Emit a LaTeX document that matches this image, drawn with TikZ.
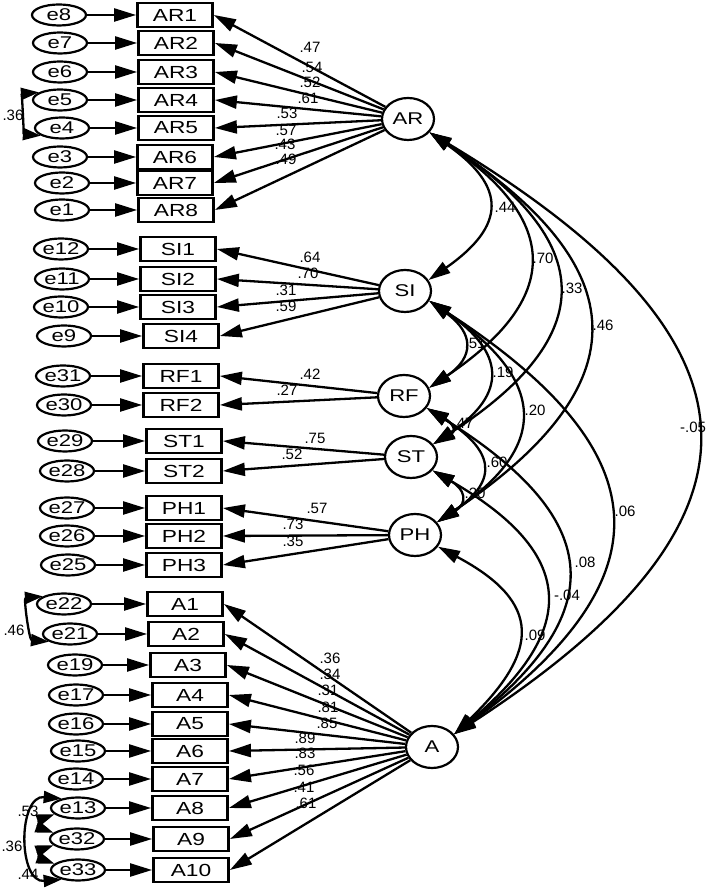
\documentclass[tikz,border=0pt]{standalone}
\usepackage{fontspec}
\setmainfont{Liberation Sans}
\newfontfamily\amosfont[FakeStretch=1.3]{Liberation Sans}
\usetikzlibrary{shapes.geometric,arrows.meta}

\tikzset{
  >={Triangle[length=22pt,width=13pt]},
  obs/.style={draw,line width=2.8pt,minimum width=75pt,minimum height=24pt,inner sep=0pt,font=\fontsize{17.5pt}{19pt}\amosfont},
  err/.style={ellipse,draw,line width=2.2pt,minimum width=54pt,minimum height=21pt,inner sep=0pt,font=\fontsize{17pt}{19pt}\amosfont},
  lat/.style={ellipse,draw,line width=2.2pt,minimum width=52pt,minimum height=42pt,inner sep=0pt,font=\fontsize{17pt}{19pt}\amosfont},
  coef/.style={inner sep=0pt,font=\fontsize{15pt}{16pt}\selectfont},
  res/.style={->,line width=2.3pt},
  load/.style={->,line width=2.3pt},
  cov/.style={<->,line width=2.3pt},
  covs/.style={{Triangle[length=18pt,width=12pt]}-{Triangle[length=18pt,width=12pt]},line width=2.3pt},
}

\begin{document}
\begin{tikzpicture}[x=1pt,y=1pt]
\useasboundingbox (0, 0) rectangle (709, 891);

% latent factors
\node (AR) at (408, 772) [lat] {AR};
\node (SI) at (405, 600) [lat] {SI};
\node (RF) at (404, 495) [lat] {RF};
\node (ST) at (411, 434) [lat] {ST};
\node (PH) at (415, 356) [lat] {PH};
\node (A) at (432, 144) [lat] {A};

% indicators
\node (AR1) at (175, 876) [obs] {AR1};
\node (AR2) at (176, 848) [obs] {AR2};
\node (AR3) at (176, 819) [obs] {AR3};
\node (AR4) at (176, 791) [obs] {AR4};
\node (AR5) at (176, 763) [obs] {AR5};
\node (AR6) at (175, 734) [obs] {AR6};
\node (AR7) at (175, 708) [obs] {AR7};
\node (AR8) at (176, 681) [obs] {AR8};
\node (SI1) at (178, 642) [obs] {SI1};
\node (SI2) at (178, 612) [obs] {SI2};
\node (SI3) at (178, 584) [obs] {SI3};
\node (SI4) at (181, 555) [obs] {SI4};
\node (RF1) at (181, 515) [obs] {RF1};
\node (RF2) at (181, 486) [obs] {RF2};
\node (ST1) at (184, 450) [obs] {ST1};
\node (ST2) at (184, 420) [obs] {ST2};
\node (PH1) at (184, 383) [obs] {PH1};
\node (PH2) at (184, 355) [obs] {PH2};
\node (PH3) at (184, 326) [obs] {PH3};
\node (A1) at (185, 287) [obs] {A1};
\node (A2) at (186, 257) [obs] {A2};
\node (A3) at (188, 226) [obs] {A3};
\node (A4) at (190, 196) [obs] {A4};
\node (A5) at (190, 167) [obs] {A5};
\node (A6) at (190, 140) [obs] {A6};
\node (A7) at (190, 112) [obs] {A7};
\node (A8) at (190, 83) [obs] {A8};
\node (A9) at (191, 52) [obs] {A9};
\node (A10) at (191, 21) [obs] {A10};

% error terms
\node (e8) at (59, 876) [err] {e8};
\node (e7) at (60, 848) [err] {e7};
\node (e6) at (60, 819) [err] {e6};
\node (e5) at (60, 791) [err] {e5};
\node (e4) at (62, 763) [err] {e4};
\node (e3) at (60, 734) [err] {e3};
\node (e2) at (62, 708) [err] {e2};
\node (e1) at (62, 681) [err] {e1};
\node (e12) at (61, 642) [err] {e12};
\node (e11) at (62, 612) [err] {e11};
\node (e10) at (61, 584) [err] {e10};
\node (e9) at (64, 555) [err] {e9};
\node (e31) at (63, 515) [err] {e31};
\node (e30) at (64, 486) [err] {e30};
\node (e29) at (65, 450) [err] {e29};
\node (e28) at (67, 420) [err] {e28};
\node (e27) at (67, 383) [err] {e27};
\node (e26) at (67, 355) [err] {e26};
\node (e25) at (68, 326) [err] {e25};
\node (e22) at (64, 287) [err] {e22};
\node (e21) at (70, 257) [err] {e21};
\node (e19) at (75, 226) [err] {e19};
\node (e17) at (76, 196) [err] {e17};
\node (e16) at (76, 167) [err] {e16};
\node (e15) at (78, 140) [err] {e15};
\node (e14) at (76, 112) [err] {e14};
\node (e13) at (78, 83) [err] {e13};
\node (e32) at (77, 52) [err] {e32};
\node (e33) at (78, 21) [err] {e33};

\draw [res] (e8) -- (AR1.west);
\draw [res] (e7) -- (AR2.west);
\draw [res] (e6) -- (AR3.west);
\draw [res] (e5) -- (AR4.west);
\draw [res] (e4) -- (AR5.west);
\draw [res] (e3) -- (AR6.west);
\draw [res] (e2) -- (AR7.west);
\draw [res] (e1) -- (AR8.west);
\draw [res] (e12) -- (SI1.west);
\draw [res] (e11) -- (SI2.west);
\draw [res] (e10) -- (SI3.west);
\draw [res] (e9) -- (SI4.west);
\draw [res] (e31) -- (RF1.west);
\draw [res] (e30) -- (RF2.west);
\draw [res] (e29) -- (ST1.west);
\draw [res] (e28) -- (ST2.west);
\draw [res] (e27) -- (PH1.west);
\draw [res] (e26) -- (PH2.west);
\draw [res] (e25) -- (PH3.west);
\draw [res] (e22) -- (A1.west);
\draw [res] (e21) -- (A2.west);
\draw [res] (e19) -- (A3.west);
\draw [res] (e17) -- (A4.west);
\draw [res] (e16) -- (A5.west);
\draw [res] (e15) -- (A6.west);
\draw [res] (e14) -- (A7.west);
\draw [res] (e13) -- (A8.west);
\draw [res] (e32) -- (A9.west);
\draw [res] (e33) -- (A10.west);

% loadings
\draw [load] (AR) -- (AR1.east);
\draw [load] (AR) -- (AR2.east);
\draw [load] (AR) -- (AR3.east);
\draw [load] (AR) -- (AR4.east);
\draw [load] (AR) -- (AR5.east);
\draw [load] (AR) -- (AR6.east);
\draw [load] (AR) -- (AR7.east);
\draw [load] (AR) -- (AR8.east);
\draw [load] (SI) -- (SI1.east);
\draw [load] (SI) -- (SI2.east);
\draw [load] (SI) -- (SI3.east);
\draw [load] (SI) -- (SI4.east);
\draw [load] (RF) -- (RF1.east);
\draw [load] (RF) -- (RF2.east);
\draw [load] (ST) -- (ST1.east);
\draw [load] (ST) -- (ST2.east);
\draw [load] (PH) -- (PH1.east);
\draw [load] (PH) -- (PH2.east);
\draw [load] (PH) -- (PH3.east);
\draw [load] (A) -- (A1.east);
\draw [load] (A) -- (A2.east);
\draw [load] (A) -- (A3.east);
\draw [load] (A) -- (A4.east);
\draw [load] (A) -- (A5.east);
\draw [load] (A) -- (A6.east);
\draw [load] (A) -- (A7.east);
\draw [load] (A) -- (A8.east);
\draw [load] (A) -- (A9.east);
\draw [load] (A) -- (A10.east);

\node (cAR1) at (310, 844) [coef] {.47};
\node (cAR2) at (312, 824) [coef] {.54};
\node (cAR3) at (310, 809) [coef] {.52};
\node (cAR4) at (308, 793) [coef] {.61};
\node (cAR5) at (287, 778) [coef] {.53};
\node (cAR6) at (286, 761) [coef] {.57};
\node (cAR7) at (285, 747) [coef] {.43};
\node (cAR8) at (286, 732) [coef] {.49};
\node (cSI1) at (310, 634) [coef] {.64};
\node (cSI2) at (308, 618) [coef] {.70};
\node (cSI3) at (286, 601) [coef] {.31};
\node (cSI4) at (286, 585) [coef] {.59};
\node (cRF1) at (310, 517) [coef] {.42};
\node (cRF2) at (287, 501) [coef] {.27};
\node (cST1) at (315, 453) [coef] {.75};
\node (cST2) at (292, 437) [coef] {.52};
\node (cPH1) at (317, 383) [coef] {.57};
\node (cPH2) at (293, 367) [coef] {.73};
\node (cPH3) at (293, 350) [coef] {.35};
\node (cA1) at (330, 233) [coef] {.36};
\node (cA2) at (330, 217) [coef] {.34};
\node (cA3) at (328, 201) [coef] {.31};
\node (cA4) at (328, 184) [coef] {.81};
\node (cA5) at (327, 168) [coef] {.85};
\node (cA6) at (305, 153) [coef] {.89};
\node (cA7) at (305, 138) [coef] {.83};
\node (cA8) at (304, 121) [coef] {.56};
\node (cA9) at (304, 104) [coef] {.41};
\node (cA10) at (306, 88) [coef] {.61};

% factor covariances
\draw [cov] (AR.-32) to[out=-35, in=35, looseness=1.64] (SI.25);
\draw [cov] (AR.-32) to[out=-34, in=34, looseness=1.6] (RF.18);
\draw [cov] (AR.-32) to[out=-33, in=33, looseness=1.64] (ST.30);
\draw [cov] (AR.-32) to[out=-33, in=34, looseness=1.62] (PH.30);
\draw [cov] (AR.-32) to[out=-31, in=33, looseness=1.7] (A.30);
\draw [cov] (SI.-22) to[out=-36, in=34, looseness=1.62] (RF.18);
\draw [cov] (SI.-22) to[out=-34, in=34, looseness=1.62] (ST.30);
\draw [cov] (SI.-22) to[out=-34, in=34, looseness=1.6] (PH.30);
\draw [cov] (SI.-22) to[out=-33, in=36, looseness=1.6] (A.30);
\draw [cov] (RF.-28) to[out=-30, in=30, looseness=1.95] (ST.30);
\draw [cov] (RF.-28) to[out=-32, in=34, looseness=1.72] (PH.30);
\draw [cov] (RF.-28) to[out=-32, in=38, looseness=1.6] (A.30);
\draw [cov] (ST.-32) to[out=-30, in=32, looseness=1.82] (PH.30);
\draw [cov] (ST.-32) to[out=-30, in=40, looseness=1.6] (A.30);
\draw [cov] (PH.-27) to[out=-28, in=44, looseness=1.62] (A.30);

\node (rARSI) at (505, 684) [coef] {.44};
\node (rARRF) at (543, 633) [coef] {.70};
\node (rARST) at (572, 603) [coef] {.33};
\node (rARPH) at (603, 566) [coef] {.46};
\node (rARA) at (693, 464) [coef] {-.05};
\node (rSIRF) at (475, 548) [coef] {.51};
\node (rSIST) at (503, 519) [coef] {.19};
\node (rSIPH) at (535, 481) [coef] {.20};
\node (rSIA) at (625, 380) [coef] {.06};
\node (rRFST) at (463, 468) [coef] {.47};
\node (rRFPH) at (497, 429) [coef] {.60};
\node (rRFA) at (585, 329) [coef] {.08};
\node (rSTPH) at (475, 398) [coef] {.20};
\node (rSTA) at (567, 296) [coef] {-.04};
\node (rPHA) at (535, 256) [coef] {.09};

% error covariances
\draw [covs] (e5.160) to[out=185, in=175, looseness=1.0] (e4.200);
\draw [covs] (e22.160) to[out=185, in=175, looseness=1.1] (e21.200);
\draw [covs] (e13.150) to[out=175, in=185, looseness=1.4] (e33.210);
\draw [covs] (e13.195) to[out=200, in=160, looseness=2.2] (e32.165);
\draw [covs] (e32.195) to[out=200, in=160, looseness=2.2] (e33.165);

\node (re5e4) at (13, 776) [coef] {.36};
\node (re22e21) at (14, 261) [coef] {.46};
\node (re13e32) at (28, 80) [coef] {.53};
\node (re13e33) at (12, 45) [coef] {.36};
\node (re32e33) at (28, 17) [coef] {.44};
\end{tikzpicture}
\end{document}
